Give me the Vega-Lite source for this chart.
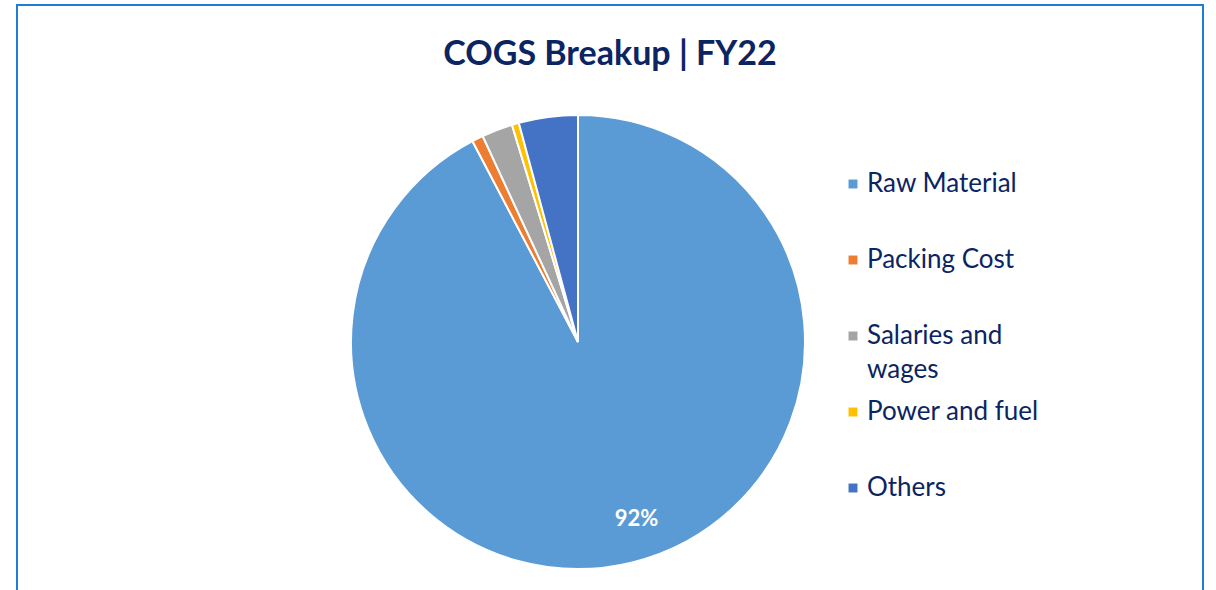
{
  "$schema": "https://vega.github.io/schema/vega-lite/v6.json",
  "width": 1186,
  "height": 674,
  "autosize": {"type": "none"},
  "padding": {"left": 17, "top": 5, "right": 13, "bottom": 0},
  "background": "white",
  "title": {"text": "COGS Breakup | FY22", "offset": -95, "baseline": "alphabetic", "font": "Lato", "fontSize": 34, "fontWeight": "bold", "color": "#0B2462", "anchor": "middle", "frame": "group"},
  "data": {"values": [
    {"idx": 1, "category": "Raw Material", "pct": 0.923},
    {"idx": 2, "category": "Packing Cost", "pct": 0.008},
    {"idx": 3, "category": "Salaries and wages", "pct": 0.022},
    {"idx": 4, "category": "Power and fuel", "pct": 0.005},
    {"idx": 5, "category": "Others", "pct": 0.042}
  ]},
  "layer": [
    {
      "mark": {"type": "rect", "fill": null, "stroke": "#1E7BD6", "strokeWidth": 2},
      "encoding": {}
    },
    {
      "mark": {"type": "arc", "outerRadius": 227, "stroke": "white", "strokeWidth": 2, "x": {"expr": "width/2 - 32"}},
      "encoding": {
        "theta": {"field": "pct", "type": "quantitative", "stack": true},
        "order": {"field": "idx", "type": "quantitative"},
        "color": {
          "field": "category", "type": "nominal",
          "scale": {"domain": ["Raw Material", "Packing Cost", "Salaries and wages", "Power and fuel", "Others"],
                    "range": ["#5B9BD5", "#ED7D31", "#A5A5A5", "#FFC000", "#4472C4"]},
          "legend": {
            "orient": "none", "legendX": 823, "legendY": 166, "title": null,
            "symbolType": "square", "symbolSize": 80, "symbolStrokeWidth": 0,
            "labelFont": "Lato", "labelFontSize": 26, "labelColor": "#0B2462",
            "rowPadding": 16, "labelOffset": 1, "labelLimit": 300,
            "labelExpr": "datum.label == 'Salaries and wages' ? ['Salaries and', 'wages'] : [datum.label, '']"
          }
        }
      }
    },
    {
      "mark": {"type": "text", "radius": 186, "x": {"expr": "width/2 - 32"}, "dx": 14, "dy": -4, "font": "Lato", "fontSize": 22, "fontWeight": "bold", "fill": "white"},
      "encoding": {
        "theta": {"field": "pct", "type": "quantitative", "stack": true},
        "order": {"field": "idx", "type": "quantitative"},
        "detail": {"field": "category", "type": "nominal"},
        "text": {"condition": {"test": "datum.pct > 0.5", "field": "pct", "type": "quantitative", "format": ".0%"}, "value": ""}
      }
    }
  ],
  "config": {"view": {"stroke": null}, "style": {"guide-label": {"lineHeight": 34}}}
}
